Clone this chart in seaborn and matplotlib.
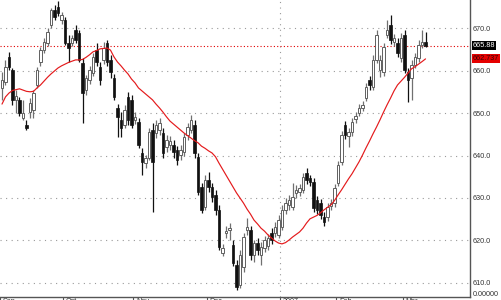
import numpy as np
import pandas as pd
import matplotlib
matplotlib.use("Agg")
import matplotlib.pyplot as plt
import matplotlib.transforms as mtransforms
import seaborn as sns

# ---------------- data ----------------
opens = [655.9, 657.3, 663.2, 660.1, 653.1, 653.1, 648.8, 647.2, 650.2, 650.7,
         656.6, 662.0, 664.8, 666.5, 670.7, 674.2, 675.0, 671.9, 671.9, 666.5,
         666.5, 669.5, 668.8, 661.8, 655.4, 657.8, 659.4, 664.8, 660.8, 662.5,
         666.5, 662.5, 658.2, 651.2, 648.4, 647.2, 653.8, 653.1, 648.4, 647.9,
         640.6, 638.2, 639.4, 646.0, 645.3, 646.0, 645.3, 642.0, 642.5, 642.5,
         641.3, 640.1, 640.8, 644.8, 646.0, 647.2, 639.7, 632.6, 627.9, 634.2,
         632.6, 630.7, 627.2, 617.1, 621.8, 622.5, 619.0, 614.2, 609.5, 613.8,
         622.5, 622.5, 616.6, 619.4, 616.6, 618.2, 618.7, 621.8, 621.8, 621.3,
         623.2, 627.2, 628.4, 627.9, 631.2, 631.4, 631.9, 635.9, 634.7, 633.8,
         629.5, 628.8, 625.5, 625.5, 628.1, 628.8, 633.5, 638.5, 647.2, 644.6,
         645.5, 648.6, 650.0, 651.2, 653.5, 657.8, 656.1, 662.5, 660.1, 659.7,
         668.4, 670.7, 666.7, 666.5, 663.0, 668.4, 659.7, 658.2, 661.3, 663.0,
         666.0, 666.7]
closes = [657.8, 660.8, 660.8, 653.1, 654.0, 650.0, 650.0, 646.5, 652.4, 654.7,
          660.1, 664.8, 666.7, 669.1, 674.2, 672.6, 673.5, 673.1, 666.5, 665.3,
          667.7, 667.2, 662.5, 654.7, 658.2, 660.1, 663.2, 662.0, 657.8, 665.3,
          662.0, 659.7, 653.8, 649.1, 646.5, 650.7, 648.4, 647.2, 649.1, 642.5,
          638.5, 639.4, 645.5, 638.5, 647.2, 647.7, 640.6, 643.7, 643.4, 640.8,
          638.9, 641.3, 644.4, 646.7, 648.4, 640.6, 631.4, 627.2, 634.2, 632.6,
          630.2, 627.2, 618.5, 618.2, 622.2, 623.0, 614.7, 609.1, 616.6, 620.8,
          623.2, 616.6, 619.4, 617.8, 618.5, 620.1, 620.6, 620.1, 623.2, 624.8,
          627.2, 628.8, 629.5, 630.2, 631.9, 632.4, 635.0, 634.2, 633.8, 627.7,
          627.2, 626.0, 624.4, 627.9, 628.8, 632.4, 637.8, 644.8, 644.8, 645.5,
          647.9, 649.3, 651.2, 651.9, 656.1, 656.6, 662.5, 668.4, 662.5, 665.5,
          669.5, 667.2, 667.7, 664.1, 667.7, 660.1, 657.8, 661.3, 663.2, 666.0,
          666.7, 665.88]
highs = [659.7, 662.5, 664.4, 660.6, 655.4, 653.8, 653.1, 648.4, 653.5, 655.4,
         660.8, 665.5, 667.7, 670.0, 674.7, 675.4, 676.4, 673.8, 672.6, 668.4,
         668.4, 670.7, 669.5, 663.0, 658.9, 661.1, 664.1, 666.5, 662.0, 666.7,
         667.2, 663.7, 659.2, 652.1, 650.2, 651.9, 655.0, 654.2, 650.2, 648.8,
         641.8, 640.1, 646.5, 647.7, 648.4, 648.8, 646.5, 644.8, 644.6, 643.7,
         642.2, 642.5, 645.3, 647.7, 649.5, 648.4, 640.6, 633.5, 635.4, 636.1,
         633.5, 631.9, 628.4, 619.2, 623.4, 624.1, 620.1, 615.4, 617.8, 621.8,
         625.3, 623.4, 620.1, 620.6, 619.7, 621.1, 621.5, 623.0, 624.4, 626.0,
         628.4, 630.0, 630.7, 633.5, 633.1, 633.3, 635.9, 637.1, 635.4, 634.7,
         630.5, 629.8, 626.7, 628.8, 629.8, 633.3, 638.7, 645.8, 648.1, 646.5,
         648.8, 650.2, 652.1, 652.8, 657.1, 658.7, 663.7, 669.5, 663.7, 666.5,
         671.9, 673.1, 668.6, 667.7, 668.8, 669.5, 660.6, 662.5, 664.1, 667.2,
         669.5, 669.1]
lows = [653.1, 656.6, 660.1, 651.9, 650.0, 649.3, 648.4, 646.0, 648.8, 648.8,
        655.9, 661.1, 664.1, 665.8, 670.0, 671.9, 672.8, 671.0, 666.0, 662.0,
        665.8, 666.5, 662.0, 647.7, 654.2, 656.8, 658.7, 661.1, 656.6, 661.5,
        661.1, 658.2, 653.1, 644.4, 644.4, 646.5, 647.2, 646.5, 647.4, 641.8,
        635.4, 637.1, 638.9, 626.7, 644.2, 644.8, 639.4, 640.8, 641.3, 639.4,
        637.8, 638.9, 639.9, 643.7, 645.3, 639.4, 630.7, 626.5, 627.2, 631.4,
        629.1, 626.0, 617.8, 616.4, 620.6, 620.1, 614.0, 608.4, 608.8, 612.6,
        621.3, 615.4, 614.9, 616.6, 614.2, 617.3, 617.8, 619.2, 620.8, 620.6,
        622.5, 626.2, 627.2, 627.2, 630.0, 630.5, 631.2, 633.3, 632.8, 626.7,
        626.2, 625.1, 623.4, 624.6, 627.2, 627.9, 632.8, 637.8, 643.9, 642.0,
        644.6, 647.7, 649.3, 650.5, 652.8, 655.4, 655.4, 661.8, 658.5, 658.7,
        667.7, 666.2, 665.8, 663.2, 662.0, 659.4, 652.6, 653.1, 660.6, 662.0,
        665.3, 665.5]
ma = [652.1, 653.8, 654.7, 655.3, 655.5, 655.7, 655.4, 655.1, 655.0, 655.1,
      655.9, 656.6, 657.5, 658.4, 659.2, 659.9, 660.6, 661.1, 661.5, 661.9,
      662.2, 662.5, 662.5, 662.6, 663.1, 663.7, 664.4, 664.7, 665.1, 665.2,
      665.3, 664.8, 663.2, 662.0, 661.1, 660.1, 659.2, 658.0, 657.1, 655.9,
      655.2, 654.5, 653.8, 653.1, 652.1, 651.2, 650.2, 649.1, 648.1, 647.4,
      646.7, 646.0, 645.3, 644.7, 644.1, 643.5, 643.0, 642.2, 641.7, 641.1,
      640.6, 639.7, 638.2, 636.8, 635.4, 634.0, 632.6, 631.2, 630.0, 628.8,
      627.4, 626.2, 624.8, 623.9, 622.9, 622.2, 621.3, 620.6, 619.9, 619.4,
      619.2, 619.5, 620.1, 620.8, 621.4, 622.0, 622.9, 624.1, 625.1, 625.5,
      625.9, 626.5, 627.2, 627.8, 628.4, 629.4, 630.7, 631.9, 633.2, 634.5,
      635.7, 637.1, 638.5, 640.1, 641.8, 643.4, 645.1, 646.7, 648.4, 650.2,
      651.9, 653.5, 655.2, 656.6, 657.5, 658.4, 659.4, 660.4, 660.9, 661.5,
      662.1, 662.737]
month_pos = [-0.5, 17.5, 37.5, 58.5, 79.5, 95.5, 114.5]
month_labels = ["Sep", "Oct", "Nov", "Dec", "2007", "Feb", "Mar"]
year_break = 79.5
y_ticks = [610, 620, 630, 640, 650, 660, 670]
last_price = 665.88
ma_last = 662.737

# ---------------- figure ----------------
sns.set_theme(style="white")
plt.rcParams["font.family"] = ["Liberation Sans", "DejaVu Sans"]

fig = plt.figure(figsize=(5.01, 3.0), dpi=100)
ax = fig.add_axes([0, 3 / 300, 470 / 501, 297 / 300])
ax.set_facecolor("white")

n = len(closes)
idx = np.arange(n)
df = pd.DataFrame({"i": idx, "open": opens, "high": highs, "low": lows,
                   "close": closes, "ma": ma})
up = df["close"] >= df["open"]

# grid
for v in y_ticks:
    ax.axhline(v, color="#9a9a9a", lw=0.8, ls=(0, (1, 4)), zorder=0)
ax.axvline(year_break, color="#9a9a9a", lw=0.8, ls=(0, (1, 4)), zorder=0)
ax.axhline(last_price, color="#e00000", lw=0.8, ls=(0, (1, 2)), zorder=0.5)

# wicks
ax.vlines(df["i"][up], df["low"][up], df["high"][up], color="#707070", lw=0.9, zorder=2)
ax.vlines(df["i"][~up], df["low"][~up], df["high"][~up], color="#111111", lw=0.9, zorder=2)

# bodies
body_h = np.maximum((df["close"] - df["open"]).abs(), 0.25)
body_b = np.minimum(df["close"], df["open"])
ax.bar(df["i"][up], body_h[up], bottom=body_b[up], width=0.74,
       color="white", edgecolor="#606060", linewidth=0.7, zorder=3)
ax.bar(df["i"][~up], body_h[~up], bottom=body_b[~up], width=0.74,
       color="#111111", edgecolor="#111111", linewidth=0.5, zorder=3)

# moving average
sns.lineplot(data=df, x="i", y="ma", ax=ax, color="#e41a1c", lw=0.85, zorder=4)

ax.set_xlim(-0.571, 133.71)
ax.set_ylim(606.7, 676.6)
ax.set_xlabel("")
ax.set_ylabel("")

# spines
for s in ["left", "top"]:
    ax.spines[s].set_visible(False)
for s in ["right", "bottom"]:
    ax.spines[s].set_visible(True)
    ax.spines[s].set_color("#555555")
    ax.spines[s].set_linewidth(1.0)

# y axis on right
ax.yaxis.tick_right()
ax.set_yticks(y_ticks)
ax.set_yticklabels([f"{v:.1f}" for v in y_ticks])
ax.tick_params(axis="y", length=0, pad=2, labelsize=5.2, labelcolor="#333333")

# x axis separators
ax.set_xticks(month_pos)
ax.tick_params(axis="x", direction="out", length=4, width=0.8, color="#555555",
               labelbottom=False, bottom=True)
trans = mtransforms.blended_transform_factory(ax.transData, ax.transAxes)
for p, lab in zip(month_pos, month_labels):
    ax.text(p + 0.8, -0.004, lab, transform=trans, ha="left", va="top",
            fontsize=5.2, color="#333333", clip_on=False)

# price boxes
ytrans = mtransforms.blended_transform_factory(ax.transAxes, ax.transData)
ax.text(1.006, last_price, f"{last_price:.2f}", transform=ytrans, ha="left",
        va="center", fontsize=5.2, color="white", clip_on=False,
        bbox=dict(boxstyle="square,pad=0.15", fc="black", ec="none"))
ax.text(1.006, ma_last, f"{ma_last:.3f}", transform=ytrans, ha="left",
        va="center", fontsize=5.2, color="#3a0000", clip_on=False,
        bbox=dict(boxstyle="square,pad=0.15", fc="#e50000", ec="none"))
fig.text(473 / 501, 1.5 / 300, "0.00000", ha="left", va="bottom",
         fontsize=5.2, color="#333333")

fig.savefig("out.png", dpi=100, facecolor="white")
